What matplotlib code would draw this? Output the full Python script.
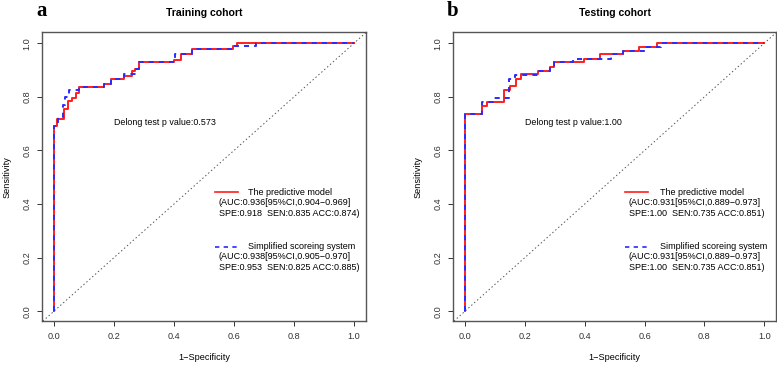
import numpy as np
import matplotlib.pyplot as plt

plt.rcParams['font.family'] = ['Liberation Sans', 'DejaVu Sans']

# training cohort ROC (step corners: fpr, tpr)
train_model_fpr = [0, 0, 0.011, 0.034, 0.048, 0.060, 0.073, 0.083, 0.167, 0.189, 0.234,
                   0.259, 0.270, 0.283, 0.400, 0.423, 0.459, 0.598, 0.611, 1.0]
train_model_tpr = [0, 0.690, 0.719, 0.754, 0.785, 0.797, 0.815, 0.835, 0.847, 0.867, 0.878,
                   0.896, 0.904, 0.930, 0.939, 0.959, 0.980, 0.990, 1.0, 1.0]
train_score_fpr = [0, 0, 0.013, 0.030, 0.036, 0.049, 0.083, 0.167, 0.189, 0.234, 0.274,
                   0.283, 0.405, 0.459, 0.598, 0.675, 1.0]
train_score_tpr = [0, 0.690, 0.725, 0.770, 0.800, 0.825, 0.835, 0.847, 0.867, 0.886, 0.905,
                   0.930, 0.959, 0.980, 0.990, 1.0, 1.0]

# testing cohort ROC
test_model_fpr = [0, 0, 0.057, 0.074, 0.131, 0.152, 0.169, 0.188, 0.245, 0.283, 0.299,
                  0.397, 0.451, 0.528, 0.582, 0.641, 1.0]
test_model_tpr = [0, 0.735, 0.765, 0.781, 0.825, 0.840, 0.867, 0.884, 0.898, 0.913, 0.929,
                  0.943, 0.959, 0.973, 0.986, 1.0, 1.0]
test_score_fpr = [0, 0, 0.057, 0.093, 0.148, 0.167, 0.245, 0.283, 0.299, 0.361, 0.489,
                  0.528, 0.600, 0.655, 1.0]
test_score_tpr = [0, 0.735, 0.781, 0.796, 0.868, 0.883, 0.898, 0.913, 0.929, 0.943, 0.959,
                  0.973, 0.986, 1.0, 1.0]

titles = ['Training cohort', 'Testing cohort']
panel_tags = ['a', 'b']
delong = ['Delong test p value:0.573', 'Delong test p value:1.00']
model_stats = [['(AUC:0.936[95%CI,0.904\u22120.969]', 'SPE:0.918  SEN:0.835 ACC:0.874)'],
               ['(AUC:0.931[95%CI,0.889\u22120.973]', 'SPE:1.00  SEN:0.735 ACC:0.851)']]
score_stats = [['(AUC:0.938[95%CI,0.905\u22120.970]', 'SPE:0.953  SEN:0.825 ACC:0.885)'],
               ['(AUC:0.931[95%CI,0.889\u22120.973]', 'SPE:1.00  SEN:0.735 ACC:0.851)']]
ticks = [0.0, 0.2, 0.4, 0.6, 0.8, 1.0]

red = '#ff1f1f'
blue = '#2a2aff'
dash = (0, (2.6, 2.6))
fs = 6.5

fig = plt.figure(figsize=(7.77, 3.67), dpi=100)
axes = [fig.add_axes([0.054, 0.125, 0.417, 0.787]),
        fig.add_axes([0.583, 0.125, 0.416, 0.787])]
curves = [(train_model_fpr, train_model_tpr, train_score_fpr, train_score_tpr),
          (test_model_fpr, test_model_tpr, test_score_fpr, test_score_tpr)]
legend_x = [(0.537, 0.613, 0.647, 0.55), (0.534, 0.61, 0.65, 0.548)]

for i, ax in enumerate(axes):
    mf, mt, sf, st = curves[i]
    ax.axline((0, 0), (1, 1), color='#555555', lw=0.7, ls=(0, (1.5, 2.5)))
    ax.plot(mf, mt, drawstyle='steps-post', color=red, lw=1.4)
    ax.plot(sf, st, drawstyle='steps-post', color=blue, lw=1.4, ls=dash)
    ax.set_xlim(-0.04, 1.04)
    ax.set_ylim(-0.037, 1.041)
    ax.set_xticks(ticks)
    ax.set_yticks(ticks)
    ax.set_xticklabels(['%.1f' % t for t in ticks])
    ax.set_yticklabels(['%.1f' % t for t in ticks], rotation=90, va='center')
    ax.tick_params(labelsize=6.6, colors='#333333', length=3.5, width=0.7, pad=4)
    for s in ax.spines.values():
        s.set_color('#555555')
        s.set_linewidth(1.0)
    ax.set_xlabel('1\u2212Specificity', fontsize=6.6, labelpad=9)
    ax.set_ylabel('Sensitivity', fontsize=6.6, labelpad=8)
    ax.set_title(titles[i], fontsize=7.6, fontweight='bold', pad=12)
    ax.text(-0.04, 1.10, panel_tags[i], transform=ax.transData, fontsize=15,
            fontweight='bold', family='Liberation Serif', ha='center', va='baseline',
            clip_on=False)
    ax.text(0.2, 0.703, delong[i], fontsize=6.4, va='center')

    lx0, lx1, tx1, tx2 = legend_x[i]
    ax.plot([lx0, lx1], [0.444, 0.444], color=red, lw=1.2)
    ax.text(tx1, 0.444, 'The predictive model', fontsize=fs, va='center')
    ax.text(tx2, 0.406, model_stats[i][0], fontsize=fs, va='center')
    ax.text(tx2, 0.365, model_stats[i][1], fontsize=fs, va='center')
    ax.plot([lx0, lx1], [0.240, 0.240], color=blue, lw=1.2, ls=dash)
    ax.text(tx1, 0.240, 'Simplified scoreing system', fontsize=fs, va='center')
    ax.text(tx2, 0.203, score_stats[i][0], fontsize=fs, va='center')
    ax.text(tx2, 0.163, score_stats[i][1], fontsize=fs, va='center')

fig.savefig('out.png', dpi=100)
